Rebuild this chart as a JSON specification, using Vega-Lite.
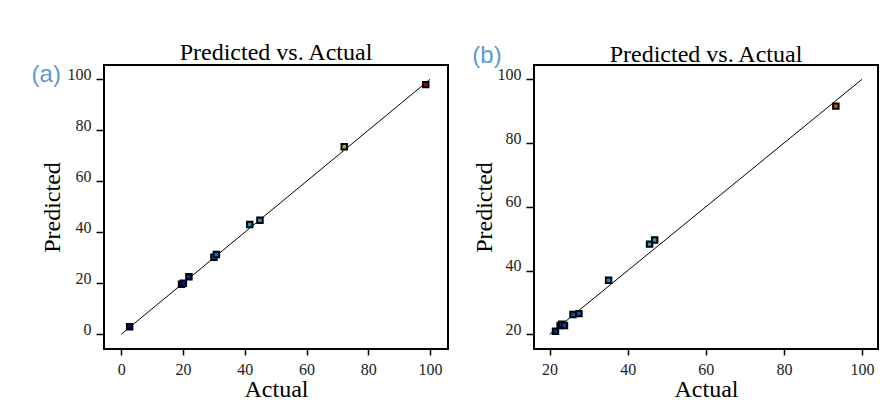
{
  "$schema": "https://vega.github.io/schema/vega-lite/v6.json",
  "background": "white",
  "padding": {"left": 30, "top": 39, "right": 0, "bottom": 0},
  "bounds": "flush",
  "spacing": 86,
  "config": {
    "view": {"stroke": "#000", "strokeWidth": 2},
    "font": "Liberation Serif",
    "axis": {"grid": false, "domain": false, "tickColor": "#000", "tickWidth": 1.5, "labelFont": "Liberation Serif", "labelFontSize": 16, "labelColor": "#222", "titleFont": "Liberation Serif", "titleFontWeight": "normal", "titleColor": "#000", "titleFontSize": 24},
    "title": {"font": "Liberation Serif", "fontSize": 24, "fontWeight": "normal", "color": "#000"}
  },
  "hconcat": [
    {
      "width": 344,
      "height": 284,
      "title": {"text": "Predicted vs. Actual", "offset": -2},
      "layer": [
        {
          "data": {"values": [{"actual": 0, "predicted": 0}, {"actual": 100, "predicted": 100}]},
          "mark": {"type": "line", "color": "#000", "strokeWidth": 1},
          "encoding": {
            "x": {"field": "actual", "type": "quantitative", "scale": {"domain": [-5.6, 105.8], "nice": false, "zero": false}, "axis": {"values": [0, 20, 40, 60, 80, 100], "title": "Actual", "tickSize": 6, "labelPadding": 6, "titlePadding": 0}},
            "y": {"field": "predicted", "type": "quantitative", "scale": {"domain": [-5.8, 105.6], "nice": false, "zero": false}, "axis": {"values": [0, 20, 40, 60, 80, 100], "title": "Predicted", "tickSize": 8, "labelPadding": 5, "labelBaseline": "alphabetic", "titlePadding": 3}}
          }
        },
        {
          "data": {"values": [
            {"actual": 2.7, "predicted": 2.9},
            {"actual": 19.5, "predicted": 19.6},
            {"actual": 20.1, "predicted": 20.0},
            {"actual": 21.9, "predicted": 22.5},
            {"actual": 30.0, "predicted": 30.2},
            {"actual": 30.8, "predicted": 31.3},
            {"actual": 41.6, "predicted": 43.0},
            {"actual": 44.9, "predicted": 44.7},
            {"actual": 72.2, "predicted": 73.5},
            {"actual": 98.6, "predicted": 97.9}
          ]},
          "mark": {"type": "point", "shape": "square", "filled": true, "size": 30, "stroke": "#000", "strokeWidth": 2, "opacity": 1},
          "encoding": {
            "x": {"field": "actual", "type": "quantitative"},
            "y": {"field": "predicted", "type": "quantitative"},
            "color": {"field": "actual", "type": "quantitative", "scale": {"domain": [2.5, 20, 22, 30, 43, 72, 98], "range": ["#000070", "#000090", "#0090e0", "#00b0a0", "#00b050", "#e8e800", "#b00000"]}, "legend": null}
          }
        },
        {
          "data": {"values": [{"label": "(a)"}]},
          "mark": {"type": "text", "font": "Liberation Sans", "fontSize": 24, "fill": "#5b9bd5", "clip": false, "align": "center", "baseline": "middle"},
          "encoding": {
            "text": {"field": "label"},
            "x": {"datum": -24.3},
            "y": {"datum": 101.7}
          }
        }
      ]
    },
    {
      "width": 344,
      "height": 284,
      "title": {"text": "Predicted vs. Actual", "offset": -23},
      "layer": [
        {
          "data": {"values": [{"actual": 20, "predicted": 20}, {"actual": 100, "predicted": 100}]},
          "mark": {"type": "line", "color": "#000", "strokeWidth": 1},
          "encoding": {
            "x": {"field": "actual", "type": "quantitative", "scale": {"domain": [16, 104.1], "nice": false, "zero": false}, "axis": {"values": [20, 40, 60, 80, 100], "title": "Actual", "tickSize": 6, "labelPadding": 6, "titlePadding": 0}},
            "y": {"field": "predicted", "type": "quantitative", "scale": {"domain": [15.4, 104.5], "nice": false, "zero": false}, "axis": {"values": [20, 40, 60, 80, 100], "title": "Predicted", "tickSize": 8, "labelPadding": 5, "labelBaseline": "alphabetic", "titlePadding": 1}}
          }
        },
        {
          "data": {"values": [
            {"actual": 21.5, "predicted": 21.0},
            {"actual": 22.7, "predicted": 22.8},
            {"actual": 23.1, "predicted": 23.2},
            {"actual": 23.8, "predicted": 22.8},
            {"actual": 26.0, "predicted": 26.2},
            {"actual": 27.5, "predicted": 26.5},
            {"actual": 35.1, "predicted": 37.0},
            {"actual": 45.6, "predicted": 48.3},
            {"actual": 46.9, "predicted": 49.6},
            {"actual": 93.3, "predicted": 91.6}
          ]},
          "mark": {"type": "point", "shape": "square", "filled": true, "size": 30, "stroke": "#000", "strokeWidth": 2, "opacity": 1},
          "encoding": {
            "x": {"field": "actual", "type": "quantitative"},
            "y": {"field": "predicted", "type": "quantitative"},
            "color": {"field": "actual", "type": "quantitative", "scale": {"domain": [21.5, 28, 35, 47, 93], "range": ["#0000c0", "#0020c0", "#0080a0", "#00b070", "#e00000"]}, "legend": null}
          }
        },
        {
          "data": {"values": [{"label": "(b)"}]},
          "mark": {"type": "text", "font": "Liberation Sans", "fontSize": 24, "fill": "#5b9bd5", "clip": false, "align": "center", "baseline": "middle"},
          "encoding": {
            "text": {"field": "label"},
            "x": {"datum": 3.96},
            "y": {"datum": 107.45}
          }
        }
      ]
    }
  ]
}
